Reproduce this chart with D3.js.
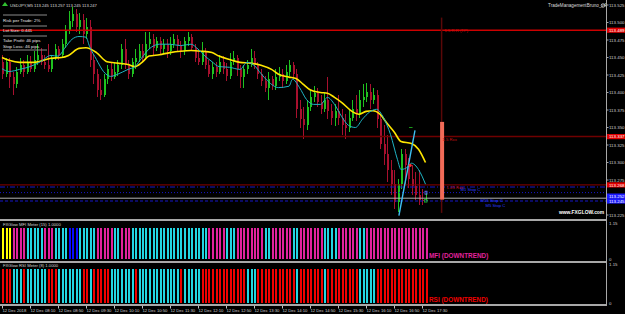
<!DOCTYPE html>
<html>
<head>
<meta charset="utf-8">
<script src="https://cdn.jsdelivr.net/npm/d3@7"></script>
<style>
  body { margin: 0; background: #000; }
  svg { display: block; }
  text { font-family: "Liberation Sans", Arial, sans-serif; }
</style>
</head>
<body>
<div id="vis"></div>
<script>
// USDJPY M5 candles
const OPEN = [
  113.444, 113.426, 113.444, 113.422, 113.412, 113.430, 113.440, 113.430, 113.444, 113.433,
  113.447, 113.454, 113.444, 113.439, 113.433, 113.450, 113.462, 113.453, 113.469, 113.490,
  113.502, 113.512, 113.493, 113.504, 113.483, 113.493, 113.447, 113.426, 113.404, 113.397,
  113.419, 113.433, 113.422, 113.430, 113.439, 113.462, 113.439, 113.427, 113.444, 113.450,
  113.459, 113.450, 113.469, 113.476, 113.464, 113.473, 113.462, 113.470, 113.459, 113.470,
  113.476, 113.466, 113.459, 113.473, 113.479, 113.464, 113.450, 113.443, 113.459, 113.440,
  113.426, 113.436, 113.430, 113.444, 113.433, 113.423, 113.444, 113.450, 113.433, 113.422,
  113.433, 113.440, 113.450, 113.439, 113.426, 113.416, 113.407, 113.419, 113.410, 113.422,
  113.426, 113.416, 113.430, 113.440, 113.426, 113.376, 113.362, 113.354, 113.379, 113.393,
  113.400, 113.387, 113.376, 113.390, 113.373, 113.364, 113.373, 113.364, 113.354, 113.350,
  113.364, 113.376, 113.369, 113.390, 113.394, 113.401, 113.390, 113.397, 113.362, 113.326,
  113.312, 113.290, 113.269, 113.243, 113.269, 113.312, 113.297, 113.276, 113.266, 113.254,
  113.247, 113.245,
];
const HIGH = [
  113.454, 113.450, 113.450, 113.430, 113.436, 113.450, 113.447, 113.454, 113.452, 113.459,
  113.469, 113.464, 113.454, 113.470, 113.454, 113.469, 113.467, 113.476, 113.497, 113.516,
  113.522, 113.519, 113.513, 113.512, 113.507, 113.504, 113.454, 113.433, 113.419, 113.426,
  113.440, 113.444, 113.444, 113.447, 113.469, 113.476, 113.447, 113.450, 113.462, 113.469,
  113.469, 113.486, 113.486, 113.483, 113.480, 113.479, 113.476, 113.476, 113.479, 113.483,
  113.482, 113.473, 113.479, 113.486, 113.484, 113.470, 113.462, 113.472, 113.464, 113.447,
  113.444, 113.444, 113.454, 113.452, 113.442, 113.457, 113.459, 113.454, 113.440, 113.439,
  113.447, 113.462, 113.459, 113.444, 113.433, 113.424, 113.430, 113.424, 113.433, 113.436,
  113.433, 113.440, 113.447, 113.444, 113.433, 113.390, 113.379, 113.390, 113.404, 113.410,
  113.407, 113.397, 113.400, 113.422, 113.383, 113.383, 113.397, 113.376, 113.369, 113.376,
  113.390, 113.397, 113.404, 113.412, 113.414, 113.412, 113.407, 113.404, 113.369, 113.354,
  113.340, 113.304, 113.290, 113.276, 113.319, 113.319, 113.307, 113.297, 113.287, 113.290,
  113.262, 113.257,
];
const LOW = [
  113.419, 113.422, 113.407, 113.397, 113.407, 113.426, 113.422, 113.426, 113.429, 113.430,
  113.440, 113.439, 113.433, 113.430, 113.430, 113.447, 113.447, 113.450, 113.464, 113.483,
  113.493, 113.487, 113.483, 113.469, 113.476, 113.436, 113.412, 113.393, 113.390, 113.393,
  113.412, 113.416, 113.419, 113.424, 113.433, 113.433, 113.419, 113.422, 113.433, 113.444,
  113.444, 113.447, 113.462, 113.454, 113.459, 113.454, 113.456, 113.450, 113.454, 113.464,
  113.459, 113.450, 113.454, 113.467, 113.459, 113.444, 113.439, 113.439, 113.433, 113.422,
  113.419, 113.422, 113.426, 113.427, 113.416, 113.419, 113.439, 113.423, 113.407, 113.407,
  113.426, 113.436, 113.433, 113.419, 113.410, 113.401, 113.390, 113.404, 113.404, 113.416,
  113.407, 113.412, 113.424, 113.419, 113.364, 113.350, 113.333, 113.347, 113.373, 113.387,
  113.379, 113.369, 113.372, 113.362, 113.354, 113.352, 113.354, 113.340, 113.333, 113.344,
  113.359, 113.359, 113.364, 113.379, 113.387, 113.376, 113.383, 113.350, 113.319, 113.297,
  113.272, 113.254, 113.233, 113.230, 113.262, 113.269, 113.264, 113.254, 113.247, 113.240,
  113.240, 113.245,
];
const CLOSE = [
  113.426, 113.444, 113.422, 113.412, 113.430, 113.440, 113.430, 113.444, 113.433, 113.447,
  113.454, 113.444, 113.439, 113.433, 113.450, 113.462, 113.453, 113.469, 113.490, 113.502,
  113.512, 113.493, 113.504, 113.483, 113.493, 113.447, 113.426, 113.404, 113.397, 113.419,
  113.433, 113.422, 113.430, 113.439, 113.462, 113.439, 113.427, 113.444, 113.450, 113.459,
  113.450, 113.469, 113.476, 113.464, 113.473, 113.462, 113.470, 113.459, 113.470, 113.476,
  113.466, 113.459, 113.473, 113.479, 113.464, 113.450, 113.443, 113.459, 113.440, 113.426,
  113.436, 113.430, 113.444, 113.433, 113.423, 113.444, 113.450, 113.433, 113.422, 113.433,
  113.440, 113.450, 113.439, 113.426, 113.416, 113.407, 113.419, 113.410, 113.422, 113.426,
  113.416, 113.430, 113.440, 113.426, 113.376, 113.362, 113.354, 113.379, 113.393, 113.400,
  113.387, 113.376, 113.390, 113.373, 113.364, 113.373, 113.364, 113.354, 113.350, 113.364,
  113.376, 113.369, 113.390, 113.394, 113.401, 113.390, 113.397, 113.362, 113.326, 113.312,
  113.290, 113.269, 113.243, 113.269, 113.312, 113.297, 113.276, 113.266, 113.254, 113.247,
  113.245, 113.247,
];

// moving averages (bar index, price)
const SLOW_MA_BARS = [0, 2, 5, 9, 14, 17, 19, 22, 24, 27, 30, 33, 36, 38, 40, 42, 45, 48, 51, 54, 57, 60, 62, 65, 68, 71, 74, 77, 79, 82, 84, 86, 88, 91, 93, 95, 97, 100, 102, 104, 106, 108, 110, 112, 114, 117, 119, 121];
const SLOW_MA_VALUES = [113.450, 113.446, 113.443, 113.443, 113.449, 113.450, 113.453, 113.463, 113.464, 113.457, 113.444, 113.442, 113.440, 113.437, 113.443, 113.452, 113.454, 113.457, 113.459, 113.460, 113.459, 113.457, 113.452, 113.447, 113.443, 113.442, 113.439, 113.433, 113.426, 113.422, 113.420, 113.412, 113.404, 113.400, 113.399, 113.393, 113.386, 113.373, 113.369, 113.373, 113.374, 113.369, 113.356, 113.344, 113.330, 113.327, 113.319, 113.300];
const FAST_MA_BARS = [0, 2, 5, 8, 11, 14, 16, 18, 20, 22, 24, 25, 27, 29, 31, 33, 36, 38, 40, 42, 45, 48, 51, 54, 56, 58, 60, 62, 65, 68, 70, 72, 74, 76, 79, 82, 83, 85, 87, 89, 91, 93, 95, 97, 99, 101, 103, 105, 107, 109, 111, 113, 114, 116, 117, 119, 121];
const FAST_MA_VALUES = [113.434, 113.430, 113.433, 113.437, 113.444, 113.453, 113.452, 113.464, 113.476, 113.480, 113.479, 113.466, 113.447, 113.430, 113.423, 113.426, 113.433, 113.437, 113.450, 113.462, 113.469, 113.469, 113.467, 113.469, 113.462, 113.452, 113.444, 113.437, 113.436, 113.433, 113.443, 113.439, 113.427, 113.416, 113.407, 113.409, 113.419, 113.407, 113.390, 113.383, 113.383, 113.393, 113.383, 113.366, 113.353, 113.350, 113.362, 113.372, 113.376, 113.364, 113.340, 113.304, 113.290, 113.294, 113.299, 113.290, 113.269];

// indicator meters, one letter per bar: Y yellow, P pink, C cyan, B blue, R red
const MFI_STATES = ('YYYPPPPCCCCCPPPCCCCBBBCCCCCPPPPPCCPPP' + 'CCCCCCCCCCCCCCCCCCCCCC' +
  'PPPPPCCCPPPPPPPPCCPPPPPPCCPPPPPPPCCCCPPPPPPCC' + 'PPPPPPPPPPPPPPPPPP').split('');
const RSI_STATES = ('RRRCCCRCCCCCCRRRCCCCCCCRRCRRRRRCCCCCCCRCCCCCCCCCCCCRCCCCC' +
  'RRRRRRRRRRRRRCCCRRRRRRRRRRRCRRRRRRRCRRRRRRRRRCCCCCRRRRRRRRRRRRRRR').split('');

const PRICE_TICKS = [113.525, 113.5, 113.475, 113.45, 113.425, 113.4, 113.375, 113.35, 113.325, 113.3, 113.275, 113.25, 113.225];
const TIME_LABELS = ['12 Dec 2018', '12 Dec 08:10', '12 Dec 08:50', '12 Dec 09:30', '12 Dec 10:10', '12 Dec 10:50',
  '12 Dec 11:30', '12 Dec 12:10', '12 Dec 12:50', '12 Dec 13:30', '12 Dec 14:10', '12 Dec 14:50',
  '12 Dec 15:30', '12 Dec 16:10', '12 Dec 16:50', '12 Dec 17:30'];
const TIME_LABEL_BARS = [0, 8, 16, 24, 32, 40, 48, 56, 64, 72, 80, 88, 96, 104, 112, 120];

// horizontal levels
const LEVEL_PRICES = [113.489, 113.337, 113.268, 113.265, 113.257, 113.249, 113.245];
const LEVEL_COLORS = ['#cc0000', '#700000', '#8a0000', '#1616c8', '#1616c8', '#b4b4b4', '#1616c8'];
const LEVEL_DASH = [null, null, null, '5,2,1,2', '1,2', null, '3,2'];
const TAG_PRICES = [113.489, 113.337, 113.268, 113.252, 113.245];
const TAG_COLORS = ['#e00000', '#e00000', '#e00000', '#1a1aff', '#1a1aff'];

const WIDTH_VIS = 625;
const HEIGHT_VIS = 314;
const AXIS_X = 606;

const SVG = d3.select('#vis').append('svg')
  .attr('width', WIDTH_VIS).attr('height', HEIGHT_VIS);

const xBar = d3.scaleLinear().domain([0, 121]).range([2, 425.5]);
const yPrice = d3.scaleLinear().domain([113.525, 113.225]).range([5, 215]);
const yMfi = d3.scaleLinear().domain([0, 1.15]).range([259, 223]);
const yRsi = d3.scaleLinear().domain([0, 1.15]).range([303, 264]);
const fmt = d3.format('.3f');

function main() {
  SVG.append('rect').attr('width', WIDTH_VIS).attr('height', HEIGHT_VIS).attr('fill', '#000');
  drawCandles();
  drawLevels();
  drawMovingAverages();
  drawTradeObjects();
  drawInfoPanel();
  drawMeters();
  drawFrame();
  drawPriceAxis();
  drawTimeAxis();
}

function drawCandles() {
  const g = SVG.append('g').attr('shape-rendering', 'crispEdges');
  const bars = d3.range(OPEN.length);
  g.selectAll('line.wick').data(bars).join('line')
    .attr('x1', (i) => Math.round(xBar(i)) + 0.5).attr('x2', (i) => Math.round(xBar(i)) + 0.5)
    .attr('y1', (i) => yPrice(HIGH[i])).attr('y2', (i) => yPrice(LOW[i]))
    .attr('stroke', (i) => (CLOSE[i] >= OPEN[i] ? '#1fc21f' : '#a8102e'))
    .attr('stroke-width', 1);
  g.selectAll('rect.body').data(bars).join('rect')
    .attr('x', (i) => Math.round(xBar(i)) - 0.5)
    .attr('width', 2)
    .attr('y', (i) => yPrice(Math.max(OPEN[i], CLOSE[i])))
    .attr('height', (i) => Math.max(1, Math.abs(yPrice(OPEN[i]) - yPrice(CLOSE[i]))))
    .attr('fill', (i) => (CLOSE[i] >= OPEN[i] ? '#1fc21f' : '#a8102e'));
}

function drawLevels() {
  const g = SVG.append('g');
  LEVEL_PRICES.forEach((p, k) => {
    g.append('line')
      .attr('x1', 0).attr('x2', AXIS_X)
      .attr('y1', yPrice(p)).attr('y2', yPrice(p))
      .attr('stroke', LEVEL_COLORS[k])
      .attr('stroke-width', k < 2 ? 1.5 : 1)
      .attr('stroke-dasharray', LEVEL_DASH[k]);
  });
}

function drawMovingAverages() {
  const line = d3.line().curve(d3.curveMonotoneX)
    .x((d) => xBar(d[0])).y((d) => yPrice(d[1]));
  SVG.append('path')
    .attr('d', line(d3.zip(SLOW_MA_BARS, SLOW_MA_VALUES)))
    .attr('fill', 'none').attr('stroke', '#ffe600').attr('stroke-width', 1.6);
  SVG.append('path')
    .attr('d', line(d3.zip(FAST_MA_BARS, FAST_MA_VALUES)))
    .attr('fill', 'none').attr('stroke', '#1eb4c4').attr('stroke-width', 1);
}

function drawTradeObjects() {
  const g = SVG.append('g');
  const xv = xBar(125.6);
  // vertical trade line
  g.append('line')
    .attr('x1', xv).attr('x2', xv)
    .attr('y1', yPrice(113.507)).attr('y2', yPrice(113.228))
    .attr('stroke', '#5a0808').attr('stroke-width', 1.5);
  g.append('rect')
    .attr('x', xv - 1.5).attr('width', 4)
    .attr('y', yPrice(113.358)).attr('height', yPrice(113.247) - yPrice(113.358))
    .attr('fill', '#f26b58');

  // trend line and markers
  g.append('line')
    .attr('x1', xBar(113.4)).attr('y1', yPrice(113.224))
    .attr('x2', xBar(118)).attr('y2', yPrice(113.346))
    .attr('stroke', '#3ec0f2').attr('stroke-width', 1.4);
  g.append('line')
    .attr('x1', xBar(116.3)).attr('x2', xBar(117.3))
    .attr('y1', yPrice(113.350)).attr('y2', yPrice(113.350))
    .attr('stroke', '#1a9a1a').attr('stroke-width', 1);
  g.append('circle')
    .attr('cx', xBar(116.6)).attr('cy', yPrice(113.296)).attr('r', 1.6)
    .attr('fill', '#ff3030');
  g.append('rect')
    .attr('x', xBar(121) - 0.5).attr('y', yPrice(113.259)).attr('width', 2).attr('height', 3)
    .attr('fill', 'none').attr('stroke', '#6a7aff').attr('stroke-width', 0.8);
  g.append('rect')
    .attr('x', xBar(121) - 1).attr('y', yPrice(113.247)).attr('width', 2.5).attr('height', 2.5)
    .attr('fill', 'none').attr('stroke', '#20c020').attr('stroke-width', 0.8);

  // annotation texts
  const txt = (x, y, s, c) => g.append('text').attr('x', x).attr('y', y)
    .attr('font-size', 4.2).attr('fill', c).text(s);
  txt(xv + 3, yPrice(113.488) + 1.5, '1.5 R:R (TP)', '#d01010');
  txt(xv + 1, yPrice(113.334) + 2, '1.5 Rxx', '#c81010');
  txt(xv + 5, yPrice(113.265) + 2, '1.45 Rxx', '#c81010');
  txt(xv + 19, yPrice(113.262) + 2, 'M1 Stop C', '#2a3cff');
  txt(xv + 39, yPrice(113.246) + 1.5, 'M15 Stop C', '#2a3cff');
  txt(xv + 44, yPrice(113.240) + 2, 'M5 Stop C', '#2a3cff');

  g.append('text').attr('x', 559).attr('y', 214)
    .attr('font-size', 4.9).attr('font-weight', 'bold').attr('fill', '#ffffff')
    .text('www.FXGLOW.com');
}

function drawInfoPanel() {
  const g = SVG.append('g');
  g.append('path').attr('d', 'M2,6 L5,2 L8,6 Z').attr('fill', '#30c030');
  g.append('text').attr('x', 10).attr('y', 7).attr('font-size', 4.2).attr('fill', '#dcdcdc')
    .text('USDJPY,M5  113.245 113.257 113.245 113.247');
  [15, 26, 36, 50].forEach((y) => {
    g.append('line').attr('x1', 3).attr('x2', 47).attr('y1', y).attr('y2', y)
      .attr('stroke', '#8a8a8a').attr('stroke-width', 1);
  });
  const rows = [['Risk per Trade: 2%', 22], ['Lot Size: 0.441', 32], ['Take Profit: 46 pips', 42], ['Stop Loss: 46 pips', 48]];
  rows.forEach((r) => {
    g.append('text').attr('x', 3).attr('y', r[1]).attr('font-size', 4.4)
      .attr('fill', '#e6e6e6').text(r[0]);
  });
  g.append('text').attr('x', 548).attr('y', 7).attr('font-size', 4.6).attr('fill', '#dcdcdc')
    .text('TradeManagementBruno_v4');
  g.append('circle').attr('cx', 603).attr('cy', 5.5).attr('r', 1.8)
    .attr('fill', 'none').attr('stroke', '#dcdcdc').attr('stroke-width', 0.7);
}

function drawMeters() {
  const colors = { Y: '#ffff00', P: '#e0229c', C: '#22d6e2', B: '#0a0aff', R: '#f00000' };
  const gm = SVG.append('g').attr('shape-rendering', 'crispEdges');
  gm.selectAll('rect').data(MFI_STATES).join('rect')
    .attr('x', (d, i) => Math.round(xBar(i)) - 0.5).attr('width', 2)
    .attr('y', yMfi(1)).attr('height', yMfi(0) - yMfi(1))
    .attr('fill', (d) => colors[d]);
  const gr = SVG.append('g').attr('shape-rendering', 'crispEdges');
  gr.selectAll('rect').data(RSI_STATES).join('rect')
    .attr('x', (d, i) => Math.round(xBar(i)) - 0.5).attr('width', 2)
    .attr('y', yRsi(1)).attr('height', yRsi(0) - yRsi(1))
    .attr('fill', (d) => colors[d]);

  SVG.append('text').attr('x', 3).attr('y', 226).attr('font-size', 4.2).attr('fill', '#d0d0d0')
    .text('FXGlow MFI Meter (15) 1.0000');
  SVG.append('text').attr('x', 3).attr('y', 267).attr('font-size', 4.2).attr('fill', '#d0d0d0')
    .text('FXGlow RSI Meter (8) 1.0000');
  SVG.append('text').attr('x', 429).attr('y', 258).attr('font-size', 6.4).attr('font-weight', 'bold')
    .attr('fill', '#e0229c').text('MFI (DOWNTREND)');
  SVG.append('text').attr('x', 429).attr('y', 302).attr('font-size', 6.4).attr('font-weight', 'bold')
    .attr('fill', '#f00000').text('RSI (DOWNTREND)');
}

function drawFrame() {
  const g = SVG.append('g').attr('shape-rendering', 'crispEdges');
  [219, 261, 304].forEach((y) => {
    g.append('rect').attr('x', 0).attr('y', y).attr('width', AXIS_X + 1).attr('height', 2)
      .attr('fill', '#a8a8a8');
  });
  g.append('line').attr('x1', AXIS_X + 0.5).attr('x2', AXIS_X + 0.5).attr('y1', 0).attr('y2', 305)
    .attr('stroke', '#a8a8a8');
}

function drawPriceAxis() {
  const g = SVG.append('g');
  PRICE_TICKS.forEach((p) => {
    g.append('line').attr('x1', AXIS_X).attr('x2', AXIS_X + 2.5)
      .attr('y1', yPrice(p)).attr('y2', yPrice(p)).attr('stroke', '#a8a8a8');
    g.append('text').attr('x', 609).attr('y', yPrice(p) + 1.7)
      .attr('font-size', 4.4).attr('fill', '#d0d0d0').text(fmt(p));
  });
  TAG_PRICES.forEach((p, k) => {
    g.append('rect').attr('x', 607).attr('y', yPrice(p) - 2.6).attr('width', 18).attr('height', 5.2)
      .attr('fill', TAG_COLORS[k]);
    g.append('text').attr('x', 609).attr('y', yPrice(p) + 1.7)
      .attr('font-size', 4.4).attr('fill', '#ffffff').text(fmt(p));
  });
  // sub-window scales
  [[yMfi, 1.15], [yMfi, 0], [yRsi, 1.15], [yRsi, 0]].forEach((s) => {
    g.append('text').attr('x', 609).attr('y', s[0](s[1]) + 1.7)
      .attr('font-size', 4.4).attr('fill', '#d0d0d0').text(s[1] === 0 ? '0' : '1.15');
  });
}

function drawTimeAxis() {
  const g = SVG.append('g');
  TIME_LABELS.forEach((t, k) => {
    const x = Math.round(xBar(TIME_LABEL_BARS[k])) + 0.5;
    g.append('line').attr('x1', x).attr('x2', x).attr('y1', 306).attr('y2', 308.5)
      .attr('stroke', '#c0c0c0');
    g.append('text').attr('x', x).attr('y', 312)
      .attr('font-size', 4.2).attr('fill', '#d0d0d0').text(t);
  });
}

main();
</script>
</body>
</html>
